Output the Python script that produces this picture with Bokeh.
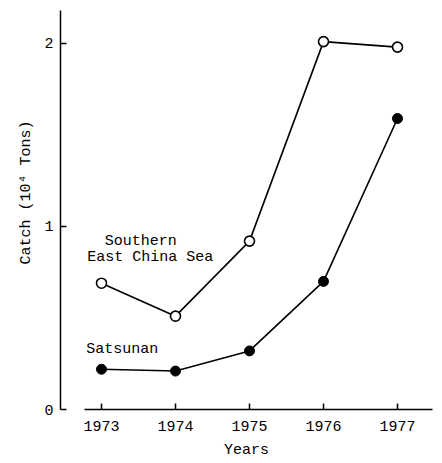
from bokeh.plotting import figure
from bokeh.models import Range1d, Label, FixedTicker, Title
from bokeh.embed import file_html
from bokeh.resources import INLINE

years = [1973, 1974, 1975, 1976, 1977]
southern_ecs = [0.69, 0.51, 0.92, 2.01, 1.98]
satsunan = [0.22, 0.21, 0.32, 0.70, 1.59]
y_ticks = [0, 1, 2]

FONT = "Liberation Mono"

p = figure(frame_width=372, frame_height=399, output_backend="svg", toolbar_location=None,
           x_range=Range1d(1972.446, 1977.473), y_range=Range1d(0, 2.18),
           min_border_left=60, min_border_right=2, min_border_top=10,
           min_border_bottom=50)
p.outline_line_color = None
p.xgrid.visible = False
p.ygrid.visible = False
p.background_fill_color = "white"
p.border_fill_color = "white"

for ax in (p.xaxis[0], p.yaxis[0]):
    ax.axis_line_color = "black"
    ax.axis_line_width = 1.5
    ax.major_tick_in = 6
    ax.major_tick_out = 0
    ax.major_tick_line_width = 1.5
    ax.minor_tick_line_color = None
    ax.major_label_text_font = FONT
    ax.major_label_text_font_size = "15px"
    ax.major_label_text_color = "black"
    ax.axis_label_text_font = FONT
    ax.axis_label_text_font_size = "15px"
    ax.axis_label_text_font_style = "normal"
    ax.axis_label_text_color = "black"

p.xaxis[0].ticker = FixedTicker(ticks=years)
p.xaxis[0].bounds = (1972.77, 1977.473)
p.xaxis[0].major_label_standoff = 11
p.xaxis[0].axis_label = "Years"
p.xaxis[0].axis_label_standoff = 8

p.yaxis[0].ticker = FixedTicker(ticks=y_ticks)
p.yaxis[0].major_label_standoff = 7

# y-axis title as a side title, its end placed ~110px below the frame top as in the original
p.add_layout(Title(text="Catch (10\u2074 Tons)", align="right", offset=110, standoff=13,
                   text_font=FONT, text_font_size="15px", text_font_style="normal",
                   text_color="black"), "left")

p.line(years, southern_ecs, line_color="black", line_width=1.6)
p.scatter(years, southern_ecs, size=10, marker="circle", fill_color="white",
          line_color="black", line_width=1.6)
p.line(years, satsunan, line_color="black", line_width=1.6)
p.scatter(years, satsunan, size=10, marker="circle", fill_color="black",
          line_color="black", line_width=1.0)

for txt, x, y in [("Southern", 1973.53, 0.92), ("East China Sea", 1973.66, 0.83),
                  ("Satsunan", 1973.28, 0.33)]:
    p.add_layout(Label(x=x, y=y, text=txt, text_font=FONT, text_font_size="15px",
                       text_color="black", text_align="center", text_baseline="middle"))

open("out.html", "w").write(file_html(p, INLINE))
